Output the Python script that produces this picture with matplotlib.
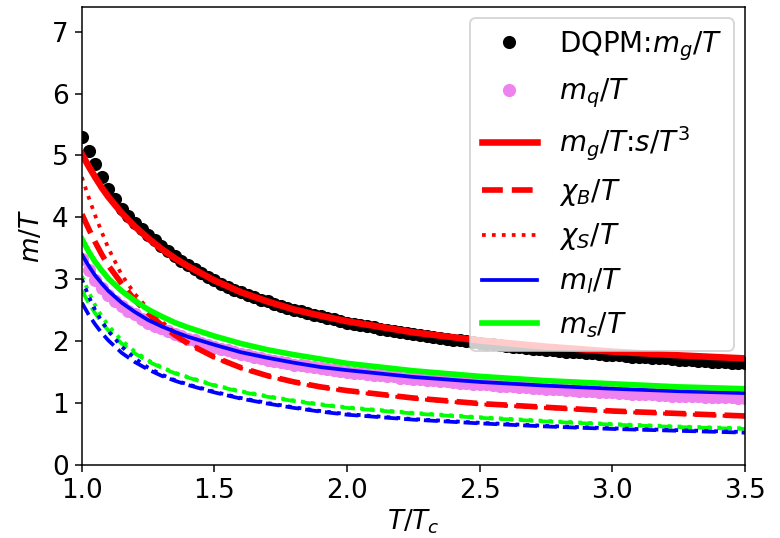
import numpy as np, matplotlib as mpl
mpl.use("Agg"); import matplotlib.pyplot as plt
mpl.rcParams.update({"font.family":"DejaVu Sans","font.size":14,"mathtext.fontset":"dejavusans"})

# DQPM gluon mass and quark mass (dense points), T/Tc = 1.0 ... 3.5 step 0.025
T_dot=np.round(np.arange(1.0,3.5001,0.025),3)
dqpm_mg=[5.30,5.08,4.86,4.65,4.46,4.29,4.14,4.02,3.91,3.81,3.72,3.63,3.54,3.46,3.38,3.30,3.23,3.16,3.10,3.04,
         2.98,2.93,2.88,2.83,2.79,2.75,2.71,2.67,2.64,2.60,2.57,2.54,2.51,2.48,2.45,2.42,2.40,2.37,2.35,2.32,
         2.30,2.28,2.26,2.24,2.22,2.20,2.18,2.16,2.15,2.13,2.11,2.10,2.08,2.07,2.05,2.04,2.02,2.01,2.00,1.98,
         1.97,1.96,1.95,1.94,1.92,1.91,1.90,1.89,1.88,1.87,1.86,1.85,1.84,1.83,1.83,1.82,1.81,1.80,1.79,1.78,
         1.77,1.77,1.76,1.75,1.74,1.74,1.73,1.72,1.72,1.71,1.70,1.70,1.69,1.68,1.68,1.67,1.67,1.66,1.65,1.65,1.64]
mq=[3.33,3.15,2.99,2.86,2.75,2.64,2.56,2.48,2.43,2.36,2.30,2.25,2.21,2.16,2.12,2.08,2.04,2.01,1.97,1.94,
    1.91,1.88,1.85,1.82,1.79,1.77,1.74,1.72,1.70,1.68,1.66,1.64,1.62,1.61,1.59,1.58,1.56,1.55,1.53,1.51,
    1.50,1.49,1.48,1.47,1.46,1.45,1.44,1.43,1.41,1.40,1.39,1.38,1.37,1.37,1.36,1.35,1.34,1.33,1.32,1.31,
    1.30,1.30,1.29,1.28,1.28,1.27,1.26,1.25,1.24,1.24,1.23,1.22,1.22,1.21,1.21,1.20,1.19,1.19,1.18,1.18,
    1.17,1.16,1.16,1.15,1.15,1.14,1.14,1.13,1.13,1.12,1.12,1.12,1.11,1.11,1.10,1.10,1.09,1.09,1.09,1.08,1.08]

# fitted curves
T=[1.0,1.025,1.05,1.075,1.1,1.15,1.2,1.25,1.3,1.35,1.4,1.5,1.6,1.7,1.8,1.9,2.0,2.25,2.5,2.75,3.0,3.25,3.5]
mg_s  =[5.02,4.83,4.65,4.48,4.33,4.07,3.85,3.66,3.49,3.34,3.21,2.98,2.79,2.64,2.51,2.41,2.32,2.14,2.01,1.91,1.83,1.77,1.72]
chiB  =[4.05,3.82,3.60,3.40,3.22,2.93,2.66,2.45,2.26,2.10,1.96,1.74,1.57,1.44,1.34,1.26,1.20,1.08,0.99,0.93,0.87,0.83,0.79]
chiS  =[4.65,4.33,4.03,3.76,3.50,3.07,2.76,2.52,2.32,2.14,1.98,1.73,1.56,1.43,1.33,1.25,1.19,1.07,0.98,0.92,0.86,0.82,0.78]
ml    =[3.40,3.22,3.06,2.93,2.81,2.62,2.47,2.34,2.24,2.15,2.07,1.94,1.82,1.73,1.65,1.58,1.53,1.42,1.34,1.28,1.23,1.19,1.16]
ms    =[3.65,3.45,3.28,3.14,3.01,2.81,2.65,2.51,2.40,2.30,2.22,2.08,1.96,1.86,1.78,1.71,1.64,1.52,1.43,1.36,1.31,1.26,1.23]
ms_B  =[2.82,2.62,2.45,2.30,2.17,1.96,1.80,1.67,1.57,1.48,1.41,1.28,1.18,1.10,1.03,0.97,0.92,0.83,0.76,0.70,0.65,0.61,0.58]
ms_S  =[3.05,2.80,2.58,2.40,2.25,2.01,1.83,1.69,1.58,1.49,1.42,1.29,1.19,1.11,1.04,0.98,0.93,0.84,0.77,0.71,0.66,0.62,0.59]
ml_B  =[2.62,2.43,2.27,2.13,2.01,1.81,1.66,1.54,1.44,1.36,1.29,1.17,1.07,0.99,0.92,0.86,0.81,0.73,0.67,0.62,0.58,0.55,0.52]
ml_S  =[3.00,2.73,2.50,2.32,2.16,1.91,1.72,1.57,1.46,1.37,1.30,1.18,1.08,1.00,0.93,0.87,0.82,0.74,0.68,0.63,0.59,0.56,0.53]

fig=plt.figure(figsize=(780/135,538/135),dpi=135)
ax=fig.add_axes([0.105,0.136,0.85,0.851])
ax.plot(T_dot,dqpm_mg,"o",c="black",ms=6,label="DQPM:$m_g/T$")
ax.plot(T_dot,mq,"o",c="violet",ms=6,label="$m_q/T$")
ax.plot(T,mg_s,"-",c="red",lw=3.5,label="$m_g/T$:$s/T^3$")
ax.plot(T,chiB,"--",c="red",lw=3,label="$\\chi_B/T$")
ax.plot(T,chiS,":",c="red",lw=2,label="$\\chi_S/T$")
ax.plot(T,ml,"-",c="blue",lw=2,label="$m_l/T$")
ax.plot(T,ms,"-",c="lime",lw=3,label="$m_s/T$")
ax.plot(T,ms_B,"--",c="lime",lw=2)
ax.plot(T,ms_S,":",c="lime",lw=2)
ax.plot(T,ml_B,"--",c="blue",lw=2)
ax.plot(T,ml_S,":",c="blue",lw=2)
ax.set_xlim(1.0,3.5); ax.set_ylim(0,7.4)
ax.set_xlabel("$T/T_c$",labelpad=2); ax.set_ylabel("$m/T$")
ax.legend(loc="upper right",fontsize=14.8,borderaxespad=0.4)
fig.savefig("out.png",dpi=135)
